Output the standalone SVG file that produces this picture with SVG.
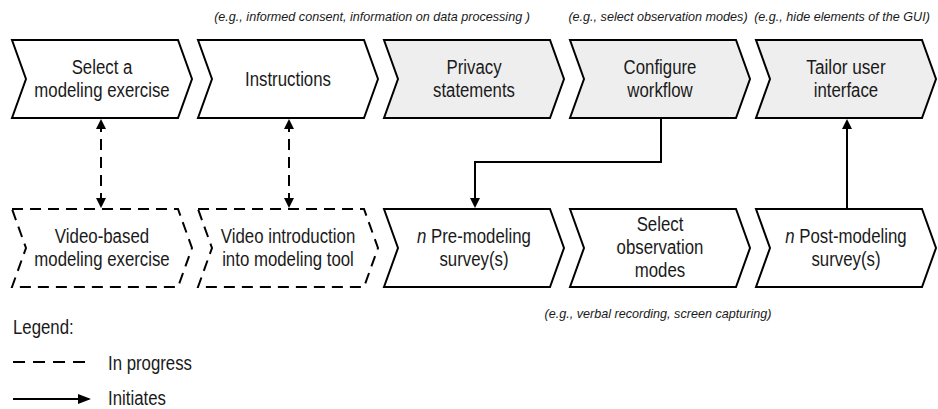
<svg xmlns="http://www.w3.org/2000/svg" width="938" height="409" viewBox="0 0 938 409">
<style>
.ch{fill:#ffffff;stroke:#000;stroke-width:2;stroke-linejoin:miter}
.gr{fill:#eeeeee}
.ds{fill:#ffffff;stroke:#000;stroke-width:2;stroke-dasharray:11 7}
.t{font-family:"Liberation Sans",Arial,sans-serif;font-size:20px;fill:#1a1a1a;text-anchor:middle}
.a{font-family:"Liberation Sans",Arial,sans-serif;font-size:12.6px;font-style:italic;fill:#1a1a1a;text-anchor:middle}
.l{font-family:"Liberation Sans",Arial,sans-serif;font-size:20px;fill:#1a1a1a}
.cn{fill:none;stroke:#000;stroke-width:2}
.dc{fill:none;stroke:#000;stroke-width:2;stroke-dasharray:11 7}
</style>
<defs>
<marker id="ah" markerUnits="userSpaceOnUse" markerWidth="10" markerHeight="10" refX="8" refY="5" orient="auto-start-reverse" viewBox="0 0 10 10">
<path d="M0,0 L10,5 L0,10 z" fill="#000"/>
</marker>
<marker id="ahl" markerUnits="userSpaceOnUse" markerWidth="13" markerHeight="10" refX="11" refY="5" orient="auto" viewBox="0 0 13 10">
<path d="M0,0 L13,5 L0,10 z" fill="#000"/>
</marker>
</defs>

<text class="a" x="372" y="21">(e.g., informed consent, information on data processing )</text>
<text class="a" x="658" y="21">(e.g., select observation modes)</text>
<text class="a" x="842" y="21">(e.g., hide elements of the GUI)</text>
<text class="a" x="658" y="318">(e.g., verbal recording, screen capturing)</text>

<g id="n1"><polygon class="ch" points="12,40 178,40 192,79 178,118 12,118 26,79"/>
<text class="t" x="102" y="74" textLength="60.7" lengthAdjust="spacingAndGlyphs">Select a</text><text class="t" x="102" y="97" textLength="135.4" lengthAdjust="spacingAndGlyphs">modeling exercise</text></g>
<g id="n2"><polygon class="ch" points="198,40 364,40 378,79 364,118 198,118 212,79"/>
<text class="t" x="288" y="86" textLength="85.9" lengthAdjust="spacingAndGlyphs">Instructions</text></g>
<g id="n3"><polygon class="ch gr" points="384,40 550,40 564,79 550,118 384,118 398,79"/>
<text class="t" x="474" y="74" textLength="55.1" lengthAdjust="spacingAndGlyphs">Privacy</text><text class="t" x="474" y="97" textLength="81.8" lengthAdjust="spacingAndGlyphs">statements</text></g>
<g id="n4"><polygon class="ch gr" points="570,40 736,40 750,79 736,118 570,118 584,79"/>
<text class="t" x="660" y="74" textLength="72.8" lengthAdjust="spacingAndGlyphs">Configure</text><text class="t" x="660" y="97" textLength="65.3" lengthAdjust="spacingAndGlyphs">workflow</text></g>
<g id="n5"><polygon class="ch gr" points="756,40 922,40 936,79 922,118 756,118 770,79"/>
<text class="t" x="846" y="74" textLength="79.3" lengthAdjust="spacingAndGlyphs">Tailor user</text><text class="t" x="846" y="97" textLength="64.4" lengthAdjust="spacingAndGlyphs">interface</text></g>

<g id="n6"><polygon class="ds" points="12,209 178,209 192,248 178,287 12,287 26,248"/>
<text class="t" x="102" y="243" textLength="94.3" lengthAdjust="spacingAndGlyphs">Video-based</text><text class="t" x="102" y="266" textLength="135.4" lengthAdjust="spacingAndGlyphs">modeling exercise</text></g>
<g id="n7"><polygon class="ds" points="198,209 364,209 378,248 364,287 198,287 212,248"/>
<text class="t" x="288" y="243" textLength="134.5" lengthAdjust="spacingAndGlyphs">Video introduction</text><text class="t" x="288" y="266" textLength="131.7" lengthAdjust="spacingAndGlyphs">into modeling tool</text></g>
<g id="n8"><polygon class="ch" points="384,209 550,209 564,248 550,287 384,287 398,248"/>
<text class="t" x="474" y="243" textLength="113.9" lengthAdjust="spacingAndGlyphs"><tspan font-style="italic">n</tspan> Pre-modeling</text><text class="t" x="474" y="266" textLength="69.1" lengthAdjust="spacingAndGlyphs">survey(s)</text></g>
<g id="n9"><polygon class="ch" points="570,209 736,209 750,248 736,287 570,287 584,248"/>
<text class="t" x="660" y="231" textLength="46.7" lengthAdjust="spacingAndGlyphs">Select</text><text class="t" x="660" y="254" textLength="86.8" lengthAdjust="spacingAndGlyphs">observation</text><text class="t" x="660" y="277" textLength="50.4" lengthAdjust="spacingAndGlyphs">modes</text></g>
<g id="n10"><polygon class="ch" points="756,209 922,209 936,248 922,287 756,287 770,248"/>
<text class="t" x="846" y="243" textLength="121.4" lengthAdjust="spacingAndGlyphs"><tspan font-style="italic">n</tspan> Post-modeling</text><text class="t" x="846" y="266" textLength="69.1" lengthAdjust="spacingAndGlyphs">survey(s)</text></g>

<g id="connectors">
<path class="dc" d="M101,121 V206" marker-start="url(#ah)" marker-end="url(#ah)"/>
<path class="dc" d="M289,121 V206" marker-start="url(#ah)" marker-end="url(#ah)"/>
<path class="cn" d="M661,119 V162 H475 V206" marker-end="url(#ah)"/>
<path class="cn" d="M847,208 V121" marker-end="url(#ah)"/>
</g>

<g id="legend">
<text class="l" x="13" y="334" textLength="60.7" lengthAdjust="spacingAndGlyphs">Legend:</text>
<line class="dc" x1="13" y1="362" x2="88" y2="362" style="stroke-dasharray:12 8"/>
<text class="l" x="108" y="370" textLength="84" lengthAdjust="spacingAndGlyphs">In progress</text>
<line class="cn" x1="13" y1="399" x2="89" y2="399" marker-end="url(#ahl)"/>
<text class="l" x="108" y="405" textLength="57.9" lengthAdjust="spacingAndGlyphs">Initiates</text>
</g>
</svg>
